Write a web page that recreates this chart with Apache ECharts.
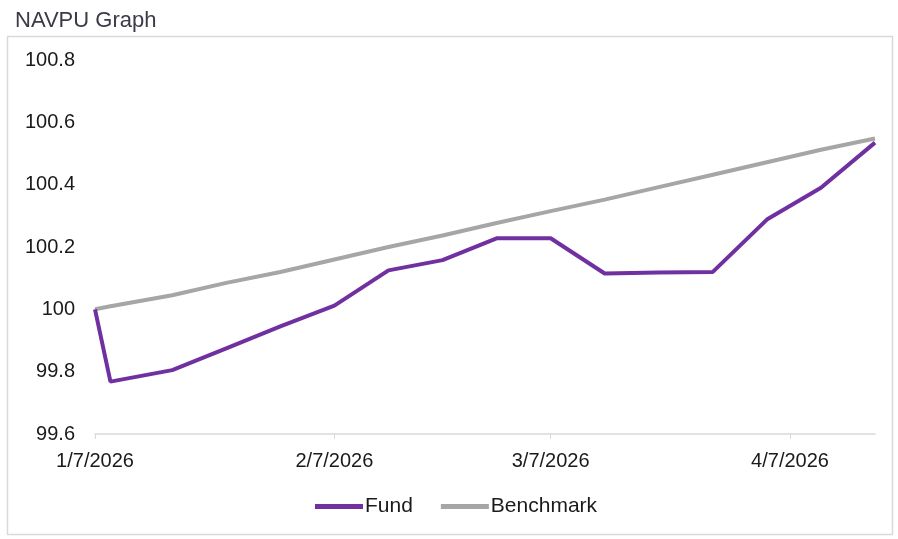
<!DOCTYPE html>
<html>
<head>
<meta charset="utf-8">
<script src="https://cdn.jsdelivr.net/npm/echarts@6/dist/echarts.min.js"></script>
<style>
html,body{margin:0;padding:0;background:#fff;}
#chart{width:898px;height:539px;}
</style>
</head>
<body>
<div id="chart"></div>
<script>
const dates = ['2026-01-07','2026-01-09','2026-01-17','2026-01-24','2026-01-31','2026-02-07','2026-02-14','2026-02-21','2026-02-28','2026-03-07','2026-03-14','2026-03-21','2026-03-28','2026-04-04','2026-04-11','2026-04-18'];
const fund = [100.00, 99.768, 99.805, 99.875, 99.945, 100.012, 100.125, 100.158, 100.228, 100.228, 100.115, 100.118, 100.12, 100.288, 100.39, 100.535];
const benchmark = [100.00, 100.01, 100.045, 100.085, 100.12, 100.16, 100.20, 100.237, 100.277, 100.315, 100.352, 100.392, 100.432, 100.472, 100.512, 100.548];
const xTickDates = ['2026-01-07','2026-02-07','2026-03-07','2026-04-07'];
const yTicks = { min: 99.6, max: 100.8, interval: 0.2 };

const DAY = 86400000;
function utc(s){ const p = s.split('-').map(Number); return Date.UTC(p[0], p[1]-1, p[2]); }
const t0 = utc(dates[0]);
function dayOf(s){ return Math.round((utc(s) - t0) / DAY); }
function fmtDay(n){ const d = new Date(t0 + n*DAY); return (d.getUTCMonth()+1) + '/' + d.getUTCDate() + '/' + d.getUTCFullYear(); }
const tickDays = xTickDates.map(dayOf);

const font = 'Liberation Sans, Arial, sans-serif';
const chart = echarts.init(document.getElementById('chart'));
chart.setOption({
  animation: false,
  backgroundColor: '#fff',
  title: {
    text: 'NAVPU Graph', left: 10, top: 5,
    textStyle: { fontFamily: font, fontSize: 22, fontWeight: 'normal', color: '#3a3a48' }
  },
  graphic: [{
    type: 'rect', shape: { x: 7.5, y: 36.5, width: 885, height: 498 },
    style: { fill: 'none', stroke: '#d9d9d9', lineWidth: 1.5 }, silent: true, z: -1
  }],
  legend: {
    data: ['Fund', 'Benchmark'], top: 491, left: 310,
    icon: 'rect', itemWidth: 48, itemHeight: 5, itemGap: 28,
    textStyle: { fontFamily: font, fontSize: 21, color: '#1a1a1a', padding: [0, 0, 0, -3] }
  },
  grid: { left: 95, right: 23, top: 60, bottom: 105 },
  xAxis: {
    type: 'value', min: 0, max: dayOf(dates[dates.length-1]),
    axisLine: { lineStyle: { color: '#d9d9d9', width: 1.5 } },
    axisTick: { show: true, customValues: tickDays, length: 5, lineStyle: { color: '#d9d9d9' } },
    axisLabel: { customValues: tickDays, formatter: v => fmtDay(v), margin: 17, fontFamily: font, fontSize: 20, color: '#1a1a1a' },
    splitLine: { show: false }
  },
  yAxis: {
    type: 'value', min: yTicks.min, max: yTicks.max, interval: yTicks.interval,
    axisLine: { show: false }, axisTick: { show: false },
    splitLine: { show: false },
    axisLabel: { margin: 20, fontFamily: font, fontSize: 20, color: '#1a1a1a',
      formatter: v => String(Math.round(v*10)/10) }
  },
  series: [
    { name: 'Benchmark', type: 'line', data: dates.map((d,i)=>[dayOf(d), benchmark[i]]),
      showSymbol: false, symbol: 'none', lineStyle: { color: '#a6a6a6', width: 4 }, itemStyle: { color: '#a6a6a6' } },
    { name: 'Fund', type: 'line', data: dates.map((d,i)=>[dayOf(d), fund[i]]),
      showSymbol: false, symbol: 'none', lineStyle: { color: '#7030a0', width: 4 }, itemStyle: { color: '#7030a0' }, z: 3 }
  ]
});
</script>
</body>
</html>
